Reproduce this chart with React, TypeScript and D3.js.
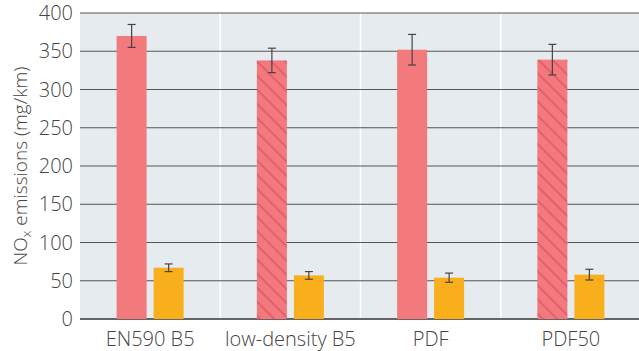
import React from 'react';
import * as d3 from 'd3';

const categories = ['EN590 B5', 'low-density B5', 'PDF', 'PDF50'];
const redValues = [370, 338, 352, 339];
const redErrors = [15, 16, 20, 20];
const orangeValues = [67, 57, 54, 58];
const orangeErrors = [5, 5, 6, 7];
const hatched = [false, true, false, true];
const yTicks = [0, 50, 100, 150, 200, 250, 300, 350, 400];

const W = 639, H = 351;
const margin = { top: 13, right: -2, bottom: 32, left: 80 };
const font = '"Open Sans", sans-serif';

export default function App() {
  const innerW = W - margin.left - margin.right;
  const innerH = H - margin.top - margin.bottom;

  const x = d3.scaleBand().domain(categories).range([0, innerW]).padding(0);
  const y = d3.scaleLinear().domain([0, 400]).range([innerH, 0]);
  const barW = 30, gap = 7;

  const bars = categories.flatMap((c, i) => {
    const mid = (x(c) ?? 0) + x.bandwidth() / 2;
    return [
      { key: `r-${i}`, x0: mid - gap / 2 - barW, v: redValues[i], e: redErrors[i], fill: '#f2797c', hatch: hatched[i] },
      { key: `o-${i}`, x0: mid + gap / 2, v: orangeValues[i], e: orangeErrors[i], fill: '#f9ae1b', hatch: false },
    ];
  });

  return (
    <svg width={W} height={H} style={{ position: 'absolute', left: 0, top: 0 }}>
      <defs>
        <pattern id="hatch" patternUnits="userSpaceOnUse" width={10} height={10} patternTransform="rotate(-45)">
          <rect width={10} height={10} fill="#f2797c" />
          <line x1={1} y1={0} x2={1} y2={10} stroke="#e4506a" strokeWidth={1.4} />
        </pattern>
      </defs>
      <g transform={`translate(${margin.left},${margin.top})`}>
        <rect x={0} y={0} width={innerW} height={innerH} fill="#e6ebf0" />
        {categories.slice(1).map((c) => (
          <line key={c} x1={x(c)} x2={x(c)} y1={0} y2={innerH} stroke="#fff" strokeWidth={1.5} />
        ))}
        {yTicks.map((t) => (
          <g key={t}>
            <line x1={0} x2={innerW} y1={y(t)} y2={y(t)} stroke={t === 0 ? '#333' : '#555'} strokeWidth={t === 0 ? 1.5 : 1} />
            <text x={-7} y={y(t)} dy="0.36em" textAnchor="end" fontFamily={font} fontSize={20} fontWeight={300} fill="#444">{t}</text>
          </g>
        ))}
        {bars.map((b) => (
          <g key={b.key}>
            <rect x={b.x0} y={y(b.v)} width={barW} height={innerH - y(b.v)} fill={b.hatch ? 'url(#hatch)' : b.fill} />
            <line x1={b.x0 + barW / 2} x2={b.x0 + barW / 2} y1={y(b.v + b.e)} y2={y(b.v - b.e)} stroke="#444" strokeWidth={1.2} />
            <line x1={b.x0 + barW / 2 - 4} x2={b.x0 + barW / 2 + 4} y1={y(b.v + b.e)} y2={y(b.v + b.e)} stroke="#444" strokeWidth={1.2} />
            <line x1={b.x0 + barW / 2 - 4} x2={b.x0 + barW / 2 + 4} y1={y(b.v - b.e)} y2={y(b.v - b.e)} stroke="#444" strokeWidth={1.2} />
          </g>
        ))}
        {categories.map((c) => (
          <text key={c} x={(x(c) ?? 0) + x.bandwidth() / 2} y={innerH + 27} textAnchor="middle" fontFamily={font} fontSize={20} fontWeight={300} fill="#444">{c}</text>
        ))}
      </g>
      <text transform={`translate(27,${margin.top + (H - margin.top - margin.bottom) / 2}) rotate(-90)`} textAnchor="middle" fontFamily={font} fontSize={19} fontWeight={300} fill="#444">
        NO<tspan fontSize={13} dy={4}>x</tspan><tspan dy={-4}> emissions (mg/km)</tspan>
      </text>
    </svg>
  );
}
